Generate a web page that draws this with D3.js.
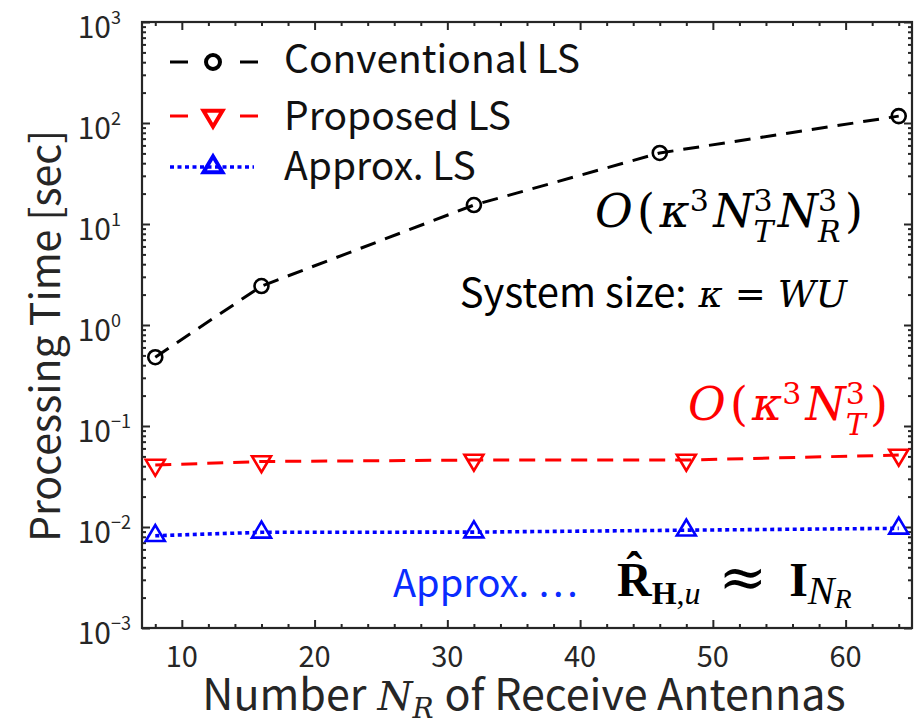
<!DOCTYPE html>
<html>
<head>
<meta charset="utf-8">
<script src="https://cdn.jsdelivr.net/npm/d3@7"></script>
<style>
  body { margin: 0; background: #fff; }
  svg { display: block; }
</style>
</head>
<body>
<div id="chart"></div>
<script>
// Processing time vs number of receive antennas (log y)

const nR = [8, 16, 32, 48, 64];
const nRConventional = [8, 16, 32, 46, 64];
const conventionalLS = [0.48, 2.43, 15.4, 50.5, 117];
const proposedLS = [0.041, 0.0445, 0.046, 0.046, 0.0516];
const approxLS = [0.0082, 0.00886, 0.0089, 0.0093, 0.0097];

const xTicks = [10, 20, 30, 40, 50, 60];
const yExponents = [-3, -2, -1, 0, 1, 2, 3];
const legendLabels = ['Conventional LS', 'Proposed LS', 'Approx. LS'];

const W = 917, H = 726;
const m = { left: 142, right: 912, top: 22, bottom: 628 };
const axisColor = '#262626';
const SANS = '"Noto Sans CJK JP", "Noto Sans", sans-serif';
const SERIF = '"DejaVu Serif", serif';
const TIMES = '"Liberation Serif", serif';

const svg = d3.select('#chart').append('svg')
  .attr('width', W).attr('height', H)
  .attr('viewBox', `0 0 ${W} ${H}`);

const x = d3.scaleLinear().domain([7, 65]).range([m.left, m.right]);
const y = d3.scaleLog().domain([1e-3, 1e3]).range([m.bottom, m.top]);

// ticks (inward, mirrored)
const xMinor = d3.range(8, 65, 2).filter((v) => !xTicks.includes(v));
const yMajor = yExponents.map((e) => Math.pow(10, e));
const yMinor = [];
yExponents.slice(0, -1).forEach((e) => {
  for (let k = 2; k <= 9; k++) yMinor.push(k * Math.pow(10, e));
});

function tickAxis(axisFn, scale, values, size, tx, ty) {
  svg.append('g')
    .attr('transform', `translate(${tx},${ty})`)
    .call(axisFn(scale).tickValues(values).tickSize(-size).tickFormat(''))
    .call((g) => g.select('.domain').remove())
    .call((g) => g.selectAll('line').attr('stroke', axisColor).attr('stroke-width', 2));
}
tickAxis(d3.axisBottom, x, xTicks, 8, 0, m.bottom);
tickAxis(d3.axisBottom, x, xMinor, 4, 0, m.bottom);
tickAxis(d3.axisTop, x, xTicks, 8, 0, m.top);
tickAxis(d3.axisTop, x, xMinor, 4, 0, m.top);
tickAxis(d3.axisLeft, y, yMajor, 8, m.left, 0);
tickAxis(d3.axisLeft, y, yMinor, 4, m.left, 0);
tickAxis(d3.axisRight, y, yMajor, 8, m.right, 0);
tickAxis(d3.axisRight, y, yMinor, 4, m.right, 0);

svg.append('rect')
  .attr('x', m.left).attr('y', m.top)
  .attr('width', m.right - m.left).attr('height', m.bottom - m.top)
  .attr('fill', 'none').attr('stroke', axisColor).attr('stroke-width', 2.2);

// tick labels
svg.append('g').selectAll('text')
  .data(xTicks)
  .join('text')
  .attr('x', (d) => x(d)).attr('y', 667)
  .attr('text-anchor', 'middle')
  .attr('font-family', SANS).attr('font-size', 29)
  .attr('fill', axisColor)
  .text((d) => d);

const yl = svg.append('g').selectAll('text')
  .data(yExponents)
  .join('text')
  .attr('x', (e) => (e < 0 ? 131 : 121))
  .attr('y', (e) => y(Math.pow(10, e)) + 16)
  .attr('text-anchor', 'end')
  .attr('font-family', SANS).attr('fill', axisColor);
yl.append('tspan').attr('font-size', 30).text('10');
yl.append('tspan').attr('font-size', 18).attr('dy', -14)
  .text((e) => (e < 0 ? '\u2212' + Math.abs(e) : e));

// simple inline math layout: pieces placed one after another
function typeset(parent, opts, parts) {
  const g = parent.append('g').attr('fill', opts.color || '#000');
  const items = [];
  let cx = 0, lastStart = 0, lastW = 0;
  for (const p of parts) {
    const t = g.append('text')
      .attr('y', p.dy || 0)
      .attr('font-family', p.family || opts.family)
      .attr('font-size', p.size || opts.size)
      .attr('font-style', p.it ? 'italic' : 'normal')
      .attr('font-weight', p.bold ? 'bold' : 'normal')
      .text(p.s);
    const w = t.node().getComputedTextLength();
    let px, gap = false;
    if (p.stack) {
      px = lastStart;
      cx = Math.max(cx, px + w);
    } else if (p.over) {
      px = lastStart + (lastW - w) / 2 + (p.dx || 0);
    } else {
      px = cx + (p.dx || 0);
      lastStart = px; lastW = w;
      cx = px + w;
      gap = !p.tight;
    }
    items.push({ t, px, gap });
  }
  const nGap = items.filter((d) => d.gap).length;
  const per = opts.width ? (opts.width - cx) / Math.max(1, nGap - 1) : 0;
  let k = -1;
  items.forEach((d) => {
    if (d.gap) k++;
    d.t.attr('x', d.px + Math.max(k, 0) * per);
  });
  const total = opts.width || cx;
  let x0 = opts.x;
  if (opts.anchor === 'end') x0 = opts.x - total;
  if (opts.anchor === 'middle') x0 = opts.x - total / 2;
  g.attr('transform', `translate(${x0},${opts.y})`);
  return g;
}

// axis titles
typeset(svg, { x: 524, y: 710, size: 43, family: SANS, color: axisColor, anchor: 'middle' }, [
  { s: 'Number' },
  { s: 'N', it: 1, family: SERIF, size: 40, dx: 11 },
  { s: 'R', it: 1, family: SERIF, size: 28, dy: 8, tight: 1 },
  { s: 'of Receive Antennas', dx: 11 },
]);

svg.append('text')
  .attr('transform', 'translate(60,336) rotate(-90)')
  .attr('text-anchor', 'middle')
  .attr('font-family', SANS).attr('font-size', 41)
  .attr('fill', axisColor)
  .text('Processing Time [sec]');

// series
const series = [
  { name: legendLabels[0], xs: nRConventional, values: conventionalLS, color: '#000000', dash: '16,10', width: 3, marker: 'circle' },
  { name: legendLabels[1], xs: nR, values: proposedLS, color: '#ff0000', dash: '16,10', width: 3, marker: 'down' },
  { name: legendLabels[2], xs: nR, values: approxLS, color: '#0000ff', dash: '4,3.5', width: 3.6, marker: 'up' },
];

const line = d3.line().x((d) => x(d[0])).y((d) => y(d[1]));

function markerPath(type) {
  if (type === 'down') return 'M-9.5,-5.3L9.5,-5.3L0,10.7Z';
  if (type === 'up') return 'M-9.5,5.3L9.5,5.3L0,-10.7Z';
  return d3.arc()({ innerRadius: 0, outerRadius: 7, startAngle: 0, endAngle: 2 * Math.PI });
}

series.forEach((s) => {
  const pts = s.xs.map((v, i) => [v, s.values[i]]);
  svg.append('path')
    .datum(pts)
    .attr('d', line)
    .attr('fill', 'none')
    .attr('stroke', s.color)
    .attr('stroke-width', s.width)
    .attr('stroke-dasharray', s.dash);
  svg.append('g').selectAll('path')
    .data(pts)
    .join('path')
    .attr('transform', (d) => `translate(${x(d[0])},${y(d[1])})`)
    .attr('d', markerPath(s.marker))
    .attr('fill', 'none')
    .attr('stroke', s.color)
    .attr('stroke-width', 2.6);
});

// legend
const legendY = [62, 116, 167];
const legendBase = [73, 130, 180];
series.forEach((s, i) => {
  const g = svg.append('g');
  if (s.marker === 'up') {
    g.append('line').attr('x1', 170).attr('x2', 254).attr('y1', legendY[i]).attr('y2', legendY[i])
      .attr('stroke', s.color).attr('stroke-width', s.width).attr('stroke-dasharray', s.dash);
  } else {
    [[170, 188], [240, 258]].forEach(([a, b]) => {
      g.append('line').attr('x1', a).attr('x2', b).attr('y1', legendY[i]).attr('y2', legendY[i])
        .attr('stroke', s.color).attr('stroke-width', s.width);
    });
  }
  g.append('path')
    .attr('transform', `translate(213,${legendY[i]})`)
    .attr('d', markerPath(s.marker))
    .attr('fill', 'none')
    .attr('stroke', s.color)
    .attr('stroke-width', 4);
  g.append('text')
    .attr('x', 284).attr('y', legendBase[i])
    .attr('font-family', SANS).attr('font-size', 39)
    .attr('fill', '#111')
    .text(s.name);
});

// annotations
typeset(svg, { x: 863, y: 227, size: 46, family: SERIF, anchor: 'end', width: 268 }, [
  { s: 'O', it: 1 },
  { s: '(' },
  { s: '\u03BA', it: 1 },
  { s: '3', size: 30, dy: -16, tight: 1 },
  { s: 'N', it: 1 },
  { s: 'T', it: 1, size: 30, dy: 15, tight: 1 },
  { s: '3', size: 30, dy: -16, stack: 1 },
  { s: 'N', it: 1 },
  { s: 'R', it: 1, size: 30, dy: 15, tight: 1 },
  { s: '3', size: 30, dy: -16, stack: 1 },
  { s: ')' },
]);

typeset(svg, { x: 847, y: 307, size: 37, family: SERIF, anchor: 'end' }, [
  { s: 'System size:', family: SANS, size: 40 },
  { s: '\u03BA', it: 1, dx: 12 },
  { s: '=', dx: 12 },
  { s: 'WU', it: 1, dx: 12 },
]);

typeset(svg, { x: 888, y: 420, size: 46, family: SERIF, color: '#ff0000', anchor: 'end', width: 200 }, [
  { s: 'O', it: 1 },
  { s: '(' },
  { s: '\u03BA', it: 1 },
  { s: '3', size: 30, dy: -16, tight: 1 },
  { s: 'N', it: 1 },
  { s: 'T', it: 1, size: 30, dy: 15, tight: 1 },
  { s: '3', size: 30, dy: -16, stack: 1 },
  { s: ')' },
]);

svg.append('text')
  .attr('x', 393).attr('y', 597)
  .attr('font-family', SANS).attr('font-size', 38)
  .attr('fill', '#0a2cff')
  .text('Approx. \u22EF');

typeset(svg, { x: 617, y: 596, size: 48, family: TIMES }, [
  { s: 'R', bold: 1 },
  { s: '\u02C6', bold: 1, over: 1, dy: -10 },
  { s: 'H', bold: 1, size: 32, dy: 8, tight: 1 },
  { s: ',', size: 32, dy: 8, tight: 1 },
  { s: 'u', it: 1, size: 32, dy: 8, tight: 1 },
  { s: '\u2248', family: SERIF, size: 58, dy: 1, dx: 18 },
  { s: 'I', bold: 1, dx: 22 },
  { s: 'N', it: 1, size: 40, dy: 8, tight: 1 },
  { s: 'R', it: 1, size: 28, dy: 12, tight: 1 },
]);
</script>
</body>
</html>
